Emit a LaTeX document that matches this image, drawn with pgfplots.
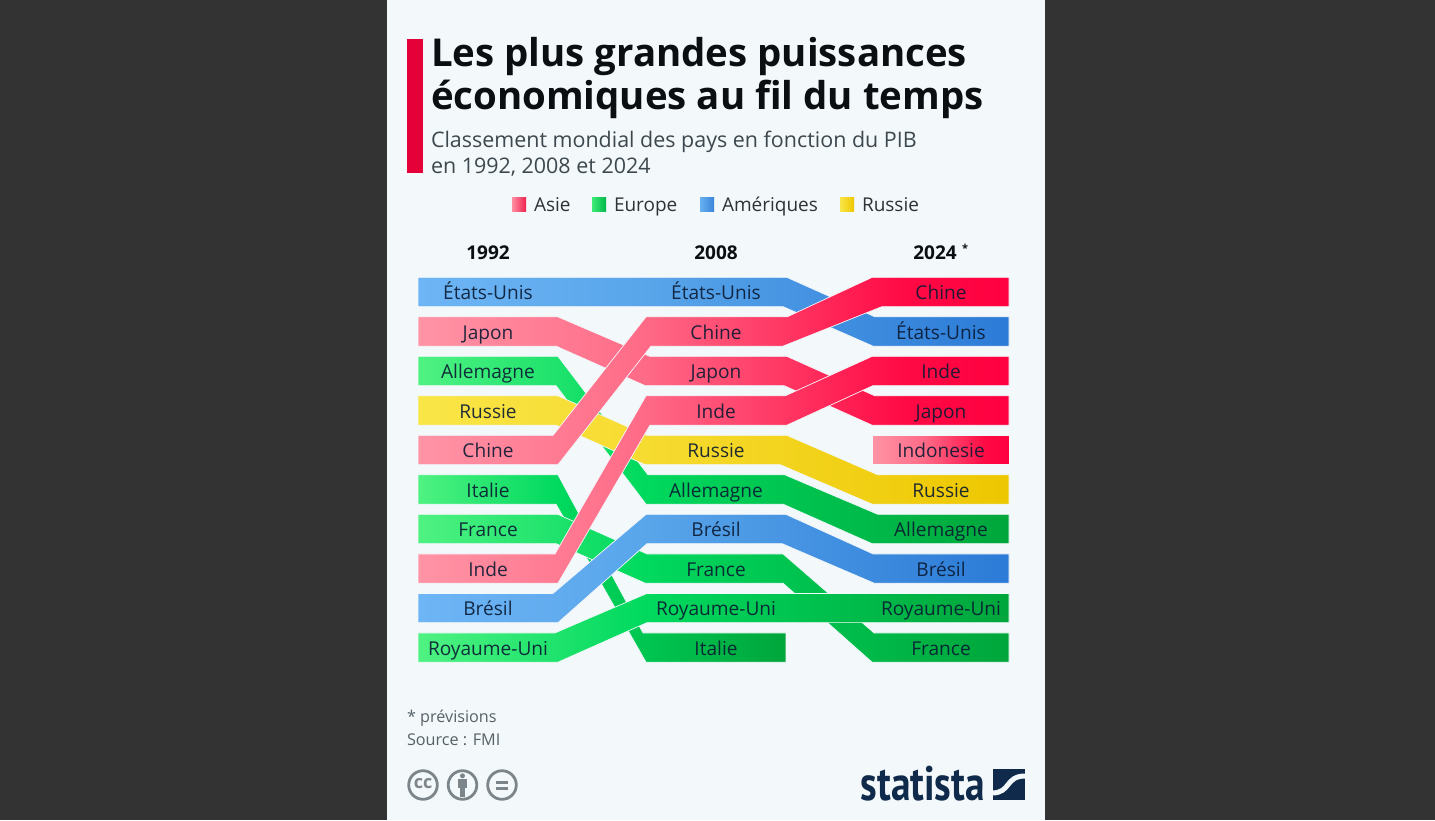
\documentclass[border=0pt]{standalone}
\usepackage{fontspec}
\setmainfont{Open Sans}
\newfontfamily\logofont{PT Sans}
\usepackage{pgfplots}
\pgfplotsset{compat=1.18}

\definecolor{frame}{HTML}{333333}
\definecolor{panel}{HTML}{F3F8FB}
\definecolor{accent}{HTML}{E6003A}
\definecolor{ink}{HTML}{0B0F12}
\definecolor{subink}{HTML}{3D484E}
\definecolor{foot}{HTML}{566167}
\definecolor{lab}{HTML}{0A1A32}
\definecolor{iconc}{HTML}{7C8589}
\definecolor{logoc}{HTML}{0F2A4A}

% 25bp and 75bp are the two ends of the band, 44bp is about x=646
\pgfdeclarehorizontalshading{asieshade}{100bp}{rgb(0bp)=(1,.58,.65); rgb(25bp)=(1,.58,.65); rgb(44bp)=(1,.42,.53); rgb(66bp)=(1,.04,.27); rgb(75bp)=(1,0,.25); rgb(100bp)=(1,0,.25)}
\pgfdeclarehorizontalshading{europeshade}{100bp}{rgb(0bp)=(.31,.95,.51); rgb(25bp)=(.31,.95,.51); rgb(44bp)=(0,.85,.37); rgb(75bp)=(0,.65,.23); rgb(100bp)=(0,.65,.23)}
\pgfdeclarehorizontalshading{ameriqueshade}{100bp}{rgb(0bp)=(.43,.71,.96); rgb(25bp)=(.43,.71,.96); rgb(44bp)=(.35,.65,.92); rgb(75bp)=(.17,.48,.84); rgb(100bp)=(.17,.48,.84)}
\pgfdeclarehorizontalshading{russieshade}{100bp}{rgb(0bp)=(.98,.90,.28); rgb(25bp)=(.98,.90,.28); rgb(44bp)=(.965,.86,.19); rgb(75bp)=(.93,.78,0); rgb(100bp)=(.93,.78,0)}

\tikzset{
  band/.style={draw=panel, line width=0.7pt, line join=miter, shade},
  asie/.style={band, shading=asieshade},
  europe/.style={band, shading=europeshade},
  ameriques/.style={band, shading=ameriqueshade},
  russie/.style={band, shading=russieshade},
  t/.style={anchor=base west, inner sep=0pt, outer sep=0pt},
}
\newcommand{\lab}[3]{\node[anchor=base, inner sep=0pt, text=lab, text opacity=.9, font=\fontsize{19.1}{19.1}\selectfont, yshift=-7.5pt] at (axis cs:#1,#2) {#3};}

\begin{document}
\begin{tikzpicture}[x=1pt,y=-1pt]
\fill[frame] (0,0) rectangle (1435,820);
\fill[panel] (387,0) rectangle (1045,820);
\fill[accent] (407,39) rectangle (422.5,173);

\begin{axis}[
  at={(0pt,-820pt)}, anchor=south west,
  scale only axis, width=1435pt, height=820pt,
  xmin=0, xmax=1435, ymin=-6.392, ymax=14.367,
  y dir=reverse, hide axis, clip=false,
]
% x = position in the picture, y = rank +- half a band

% 1992 -> 2008 -> 2024, lowest layer first
\addplot[europe] coordinates {(418,5.63) (558,5.63) (643,9.63) (786,9.63) (786,10.37) (646,10.37) (556,6.37) (418,6.37)} -- cycle; % Italie
\addplot[europe] coordinates {(418,2.63) (558,2.63) (648,5.63) (785,5.63) (878,6.63) (1009,6.63) (1009,7.37) (872,7.37) (783,6.37) (646,6.37) (556,3.37) (418,3.37)} -- cycle; % Allemagne
\addplot[europe] coordinates {(418,6.63) (558,6.63) (647,7.63) (783,7.63) (874,9.63) (1009,9.63) (1009,10.37) (872,10.37) (783,8.37) (645,8.37) (556,7.37) (418,7.37)} -- cycle; % France
\addplot[russie] coordinates {(418,3.63) (558,3.63) (647,4.63) (787,4.63) (878,5.63) (1009,5.63) (1009,6.37) (872,6.37) (780,5.37) (645,5.37) (556,4.37) (418,4.37)} -- cycle; % Russie
\addplot[asie] coordinates {(418,1.63) (558,1.63) (650,2.63) (787,2.63) (875,3.63) (1009,3.63) (1009,4.37) (872,4.37) (784,3.37) (645,3.37) (556,2.37) (418,2.37)} -- cycle; % Japon
\addplot[ameriques] coordinates {(418,0.63) (787,0.63) (875,1.63) (1009,1.63) (1009,2.37) (873,2.37) (783,1.37) (418,1.37)} -- cycle; % Etats-Unis
\addplot[ameriques] coordinates {(418,8.63) (553,8.63) (646,6.63) (786,6.63) (873,7.63) (1009,7.63) (1009,8.37) (874,8.37) (782,7.37) (647,7.37) (558,9.37) (418,9.37)} -- cycle; % Bresil
\addplot[europe] coordinates {(418,9.63) (555,9.63) (647,8.63) (1009,8.63) (1009,9.37) (647,9.37) (558,10.37) (418,10.37)} -- cycle; % Royaume-Uni
\addplot[asie] coordinates {(418,7.63) (555,7.63) (646,3.63) (785,3.63) (872,2.63) (1009,2.63) (1009,3.37) (873,3.37) (787,4.37) (650,4.37) (558,8.37) (418,8.37)} -- cycle; % Inde
\addplot[asie] coordinates {(418,4.63) (553,4.63) (646,1.63) (787,1.63) (872,0.63) (1009,0.63) (1009,1.37) (882,1.37) (783,2.37) (651,2.37) (558,5.37) (418,5.37)} -- cycle; % Chine
\addplot[asie] coordinates {(872,4.63) (1009,4.63) (1009,5.37) (872,5.37)} -- cycle; % Indonesie

\lab{488}{1}{États-Unis}\lab{488}{2}{Japon}\lab{488}{3}{Allemagne}\lab{488}{4}{Russie}\lab{488}{5}{Chine}
\lab{488}{6}{Italie}\lab{488}{7}{France}\lab{488}{8}{Inde}\lab{488}{9}{Brésil}\lab{488}{10}{Royaume-Uni}
\lab{716}{1}{États-Unis}\lab{716}{2}{Chine}\lab{716}{3}{Japon}\lab{716}{4}{Inde}\lab{716}{5}{Russie}
\lab{716}{6}{Allemagne}\lab{716}{7}{Brésil}\lab{716}{8}{France}\lab{716}{9}{Royaume-Uni}\lab{716}{10}{Italie}
\lab{941}{1}{Chine}\lab{941}{2}{États-Unis}\lab{941}{3}{Inde}\lab{941}{4}{Japon}\lab{941}{5}{Indonesie}
\lab{941}{6}{Russie}\lab{941}{7}{Allemagne}\lab{941}{8}{Brésil}\lab{941}{9}{Royaume-Uni}\lab{941}{10}{France}
\end{axis}

% titles
\node[t, text=ink, font=\fontsize{38.4}{38.4}\selectfont\bfseries] at (431,66.7) {Les plus grandes puissances};
\node[t, text=ink, font=\fontsize{38.4}{38.4}\selectfont\bfseries] at (431,109.7) {économiques au fil du temps};
\node[t, text=subink, font=\fontsize{21.45}{21.45}\selectfont] at (431,147) {Classement mondial des pays en fonction du PIB};
\node[t, text=subink, font=\fontsize{21.45}{21.45}\selectfont] at (431,173.3) {en 1992, 2008 et 2024};

% legend
\foreach \x/\a/\b/\name in {512/FF8FA3/F0204F/Asie, 592/3DEB78/00B84A/Europe, 700/66B0F0/3A85D8/Amériques, 840/F8E548/EEC800/Russie}{
  \definecolor{ca}{HTML}{\a}\definecolor{cb}{HTML}{\b}
  \shade[left color=ca, right color=cb] (\x,197) rectangle ++(14,14);
  \node[t, text=ink!85!white, font=\fontsize{19}{19}\selectfont] at (\x+22,211) {\name};
}

% column heads
\node[anchor=base, inner sep=0, text=ink, font=\fontsize{19}{19}\selectfont\bfseries] at (488,259) {1992};
\node[anchor=base, inner sep=0, text=ink, font=\fontsize{19}{19}\selectfont\bfseries] at (716,259) {2008};
\node[anchor=base, inner sep=0, text=ink, font=\fontsize{19}{19}\selectfont\bfseries] at (935,259) {2024};
\node[anchor=base, inner sep=0, text=ink, font=\fontsize{11}{11}\selectfont\bfseries] at (965,252.5) {*};

% footer
\node[t, text=foot, font=\fontsize{16.2}{16.2}\selectfont] at (407,722) {* prévisions};
\node[t, text=foot, font=\fontsize{16.2}{16.2}\selectfont] at (407,745) {Source : FMI};

% licence icons
\foreach \x in {423,462.5,502}{\draw[iconc, line width=2.8pt] (\x,785) circle (14.3);}
\node[text=iconc, inner sep=0, font=\fontsize{18}{18}\selectfont\bfseries] at (423,783.5) {cc};
\fill[iconc] (462.5,775.8) circle (2.5);
\fill[iconc] (458,779) rectangle (467,787.5);
\fill[iconc] (459.8,787) rectangle (465.2,796.5);
\fill[iconc] (496,780.8) rectangle (508,783.8);
\fill[iconc] (496,787) rectangle (508,790);

% logo
\node[anchor=base west, inner sep=0, text=logoc, font=\logofont\fontsize{41}{41}\selectfont\bfseries] at (860.5,800) {\scalebox{.96}[1.18]{statista}};
\fill[logoc] (993,769) rectangle (1024.5,800);
\draw[panel, line width=5pt] (992,793) .. controls (1011,793) and (1005,776) .. (1025,776);
\end{tikzpicture}
\end{document}
